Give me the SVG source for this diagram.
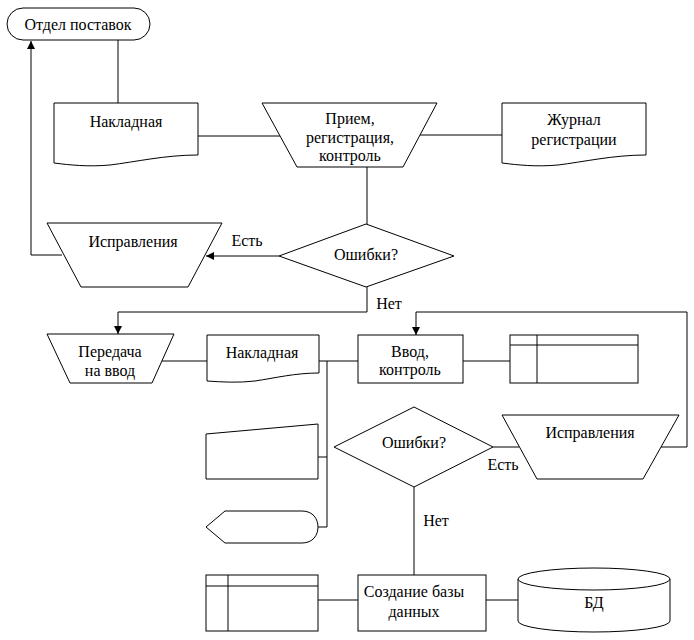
<svg xmlns="http://www.w3.org/2000/svg" width="694" height="640" viewBox="0 0 694 640" font-family="'Liberation Serif', 'DejaVu Serif', serif">
<defs>
<marker id="arr" viewBox="0 0 10 10" refX="10" refY="5" markerWidth="8" markerHeight="8" markerUnits="userSpaceOnUse" orient="auto">
<path d="M0,0 L10,5 L0,10 Z" fill="#000"/>
</marker>
<style>
.s{fill:#fff;stroke:#000;stroke-width:1}
.c{fill:none;stroke:#000;stroke-width:1}
text{font-family:'Liberation Serif','DejaVu Serif',serif;font-size:16px;fill:#000;text-anchor:middle}
</style>
</defs>
<rect width="694" height="640" fill="#fff"/>
<g id="connectors">
<path class="c" d="M118,40 V103"/>
<path class="c" d="M198,136 H280"/>
<path class="c" d="M420,135 H502"/>
<path class="c" d="M367,167 V224"/>
<path class="c" d="M279,256 H206" marker-end="url(#arr)"/>
<path class="c" d="M62,255 H31 V41" marker-end="url(#arr)"/>
<path class="c" d="M367,287 V312 H118 V334" marker-end="url(#arr)"/>
<path class="c" d="M162,361 H207"/>
<path class="c" d="M319,361 H358"/>
<path class="c" d="M327,361 V527 H318"/>
<path class="c" d="M318,457 H327"/>
<path class="c" d="M463,361 H510"/>
<path class="c" d="M493,447 H519"/>
<path class="c" d="M661,447 H687 V312 H416 V335" marker-end="url(#arr)"/>
<path class="c" d="M414,487 V575"/>
<path class="c" d="M318,600 H358"/>
<path class="c" d="M486,600 H518"/>
</g>
<g id="labels">
<text x="247" y="246">Есть</text>
<text x="389" y="309">Нет</text>
<text x="503" y="470">Есть</text>
<text x="436" y="526">Нет</text>
</g>
<g id="n_supply">
<rect class="s" x="7" y="8" width="143" height="32" rx="16" ry="16"/>
<text x="78" y="30">Отдел поставок</text>
</g>
<g id="n_invoice1">
<path class="s" d="M54,103 H198 V155 C165,155 135,162 110,165 C88,167 70,165 54,163 Z"/>
<text x="126" y="127">Накладная</text>
</g>
<g id="n_receive">
<path class="s" d="M262,103 H437 L403,167 H297 Z"/>
<text x="350" y="124">Прием,</text>
<text x="350" y="143">регистрация,</text>
<text x="350" y="161">контроль</text>
</g>
<g id="n_journal">
<path class="s" d="M502,103 H646 V155 C613,155 583,162 558,165 C536,167 518,165 502,163 Z"/>
<text x="574" y="125">Журнал</text>
<text x="574" y="145">регистрации</text>
</g>
<g id="n_err1">
<path class="s" d="M366,224 L454,256 L366,287 L279,256 Z"/>
<text x="366" y="260">Ошибки?</text>
</g>
<g id="n_fix1">
<path class="s" d="M47,223 H222 L188,287 H81 Z"/>
<text x="133" y="247">Исправления</text>
</g>
<g id="n_transfer">
<path class="s" d="M47,334 H174 L152,383 H70 Z"/>
<text x="110" y="357">Передача</text>
<text x="110" y="376">на ввод</text>
</g>
<g id="n_invoice2">
<path class="s" d="M207,335 H319 V373 C295,373 275,378 255,381 C238,383 222,382 207,381 Z"/>
<text x="262" y="358">Накладная</text>
</g>
<g id="n_input">
<rect class="s" x="358" y="335" width="105" height="48"/>
<text x="410" y="357">Ввод,</text>
<text x="410" y="375">контроль</text>
</g>
<g id="n_table1">
<rect class="s" x="510" y="335" width="128" height="48"/>
<path class="c" d="M510,345 H638 M537,335 V383"/>
</g>
<g id="n_manual">
<path class="s" d="M206,434 L318,424 V479 H206 Z"/>
</g>
<g id="n_display">
<path class="s" d="M225,511 H302 C313,511 318,519 318,527 C318,535 313,543 302,543 H225 L206,527 Z"/>
</g>
<g id="n_err2">
<path class="s" d="M414,407 L493,447 L414,487 L334,447 Z"/>
<text x="414" y="448">Ошибки?</text>
</g>
<g id="n_fix2">
<path class="s" d="M502,415 H679 L643,479 H537 Z"/>
<text x="590" y="438">Исправления</text>
</g>
<g id="n_table2">
<rect class="s" x="206" y="575" width="112" height="56"/>
<path class="c" d="M206,586 H318 M228,575 V631"/>
</g>
<g id="n_create">
<rect class="s" x="358" y="575" width="128" height="56"/>
<text x="414" y="597">Создание базы</text>
<text x="414" y="617">данных</text>
</g>
<g id="n_db">
<path class="s" d="M518,579 V621 A76,11 0 0 0 670,621 V579"/>
<ellipse class="s" cx="594" cy="579" rx="76" ry="11"/>
<text x="594" y="608">БД</text>
</g>
</svg>
